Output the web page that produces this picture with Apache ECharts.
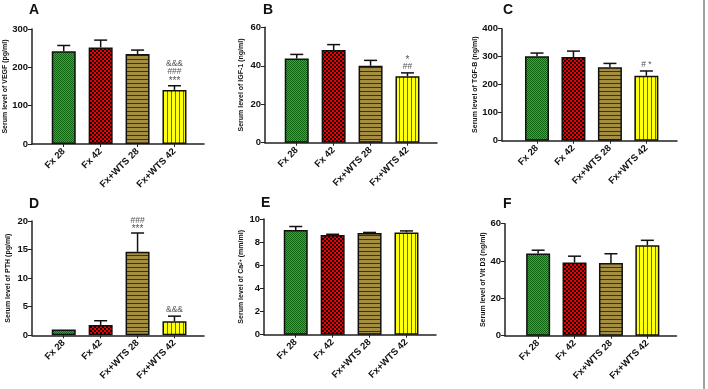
<!DOCTYPE html>
<html><head><meta charset="utf-8">
<script src="https://cdn.jsdelivr.net/npm/echarts@6/dist/echarts.min.js"></script>
<style>html,body{margin:0;padding:0;background:#fff}#c{width:708px;height:389px}</style>
</head><body><div id="c"></div>
<script>
const categories = ['Fx 28', 'Fx 42', 'Fx+WTS 28', 'Fx+WTS 42'];
const panelLetters = ['A', 'B', 'C', 'D', 'E', 'F'];
const yTitles = ['Serum level of VEGF (pg/ml)', 'Serum level of IGF-1 (ng/ml)', 'Serum level of TGF-B (ng/ml)',
  'Serum level of PTH (pg/ml)', 'Serum level of Ca{sup|2+} (mm/ml)', 'Serum level of Vit D3 (ng/ml)'];
const vegfMean = [242, 252, 235, 141];
const vegfErr = [15, 19, 10, 11];
const igfMean = [43.8, 48.2, 40.0, 34.5];
const igfErr = [2.1, 2.8, 2.8, 1.8];
const tgfMean = [302, 299, 262, 232];
const tgfErr = [11, 21, 14, 17];
const pthMean = [1.0, 1.8, 14.6, 2.45];
const pthErr = [0, 0.75, 3.3, 0.9];
const caMean = [9.05, 8.62, 8.78, 8.84];
const caErr = [0.3, 0.06, 0.06, 0.13];
const vitMean = [44.0, 39.2, 39.0, 48.5];
const vitErr = [1.8, 3.4, 4.9, 2.6];
const yMax = [300, 60, 400, 20, 10, 60];
const yInterval = [100, 20, 100, 5, 2, 20];
// significance marks, listed bottom-to-top
const vegfMarks = [[], [], [], ['***', '###', '&&&']];
const igfMarks = [[], [], [], ['##', '*']];
const tgfMarks = [[], [], [], ['# *']];
const pthMarks = [[], [], ['***', '###'], ['&&&']];
const caMarks = [[], [], [], []];
const vitMarks = [[], [], [], []];

const means = [vegfMean, igfMean, tgfMean, pthMean, caMean, vitMean];
const errs = [vegfErr, igfErr, tgfErr, pthErr, caErr, vitErr];
const marks = [vegfMarks, igfMarks, tgfMarks, pthMarks, caMarks, vitMarks];

const layout = [
  {left: 32, top: 29, height: 115, width: 172, xmin: 0.14, xmax: 4.8, letterX: 29, letterY: 3, nameGap: 20, markStep: 8},
  {left: 265, top: 27.3, height: 115.4, width: 172, xmin: 0.14, xmax: 4.8, letterX: 263, letterY: 3, nameGap: 20, markStep: 8.5},
  {left: 502, top: 28.7, height: 112, width: 175, xmin: 0.04, xmax: 4.84, letterX: 503, letterY: 3, nameGap: 21, markStep: 8},
  {left: 32, top: 221, height: 114.3, width: 172, xmin: 0.14, xmax: 4.8, letterX: 29, letterY: 197, nameGap: 20, markStep: 6},
  {left: 264, top: 219, height: 115.7, width: 172, xmin: 0.14, xmax: 4.8, letterX: 261, letterY: 196, nameGap: 19, markStep: 8},
  {left: 505, top: 223.7, height: 112, width: 171.5, xmin: 0.09, xmax: 4.8, letterX: 503, letterY: 197, nameGap: 14, markStep: 8}
];

function pat(w, h, draw) {
  const c = document.createElement('canvas');
  c.width = w; c.height = h;
  draw(c.getContext('2d'));
  return {image: c, repeat: 'repeat'};
}
const fills = [
  pat(2, 2, g => { g.fillStyle = '#2fae2f'; g.fillRect(0, 0, 2, 2); g.fillStyle = '#0d650d'; g.fillRect(0, 0, 1, 1); g.fillRect(1, 1, 1, 1); }),
  pat(4, 4, g => { g.fillStyle = '#f00000'; g.fillRect(0, 0, 4, 4); g.fillStyle = '#1a0000'; g.fillRect(0, 0, 2, 2); g.fillRect(2, 2, 2, 2); }),
  pat(1, 4, g => { g.fillStyle = '#a48e40'; g.fillRect(0, 0, 1, 4); g.fillStyle = '#3d3212'; g.fillRect(0, 3, 1, 1); }),
  pat(4, 1, g => { g.fillStyle = '#ffff10'; g.fillRect(0, 0, 4, 1); g.fillStyle = '#6a6a28'; g.fillRect(3, 0, 1, 1); })
];

const FONT = 'Liberation Sans, Arial, sans-serif';
const grid = [], xAxis = [], yAxis = [], series = [], title = [];
layout.forEach((L, k) => {
  grid.push({left: L.left, top: L.top, width: L.width, height: L.height, outerBoundsMode: 'none', containLabel: false});
  title.push({text: panelLetters[k], left: L.letterX, top: L.letterY, padding: 0,
    textStyle: {fontSize: 14, fontWeight: 'bold', color: '#111', fontFamily: FONT}});
  xAxis.push({
    type: 'value', gridIndex: k, min: L.xmin, max: L.xmax,
    splitLine: {show: false},
    axisLine: {show: true, lineStyle: {color: '#222', width: 1.5}},
    axisTick: {show: true, length: 3, customValues: [1, 2, 3, 4], lineStyle: {color: '#222', width: 1}},
    axisLabel: {customValues: [1, 2, 3, 4], rotate: 45, margin: 6, fontSize: 9.5, fontWeight: 'bold', color: '#111', fontFamily: FONT,
      formatter: v => categories[Math.round(v) - 1] || ''}
  });
  yAxis.push({
    type: 'value', gridIndex: k, min: 0, max: yMax[k], interval: yInterval[k],
    splitLine: {show: false},
    axisLine: {show: true, lineStyle: {color: '#222', width: 1.5}},
    axisTick: {show: true, length: 4, lineStyle: {color: '#222', width: 1}},
    axisLabel: {margin: 4, fontSize: 9.5, fontWeight: 'bold', color: '#111', fontFamily: FONT},
    name: yTitles[k], nameLocation: 'middle', nameGap: L.nameGap,
    nameTextStyle: {fontSize: 7, fontWeight: 'bold', color: '#111', fontFamily: FONT,
      rich: {sup: {fontSize: 5, fontWeight: 'bold', verticalAlign: 'top', color: '#111', fontFamily: FONT}}}
  });
  series.push({
    type: 'bar', xAxisIndex: k, yAxisIndex: k, barWidth: 24,
    data: means[k].map((v, i) => ({value: [i + 1, v], itemStyle: {color: fills[i]}})),
    itemStyle: {borderColor: '#111', borderWidth: 1.5},
    emphasis: {disabled: true}, animation: false
  });
  series.push({
    type: 'custom', xAxisIndex: k, yAxisIndex: k, clip: false, z: 5, animation: false,
    data: means[k].map((v, i) => [i + 1, v, errs[k][i]]),
    renderItem: (params, api) => {
      const x = api.value(0), m = api.value(1), e = api.value(2);
      const p0 = api.coord([x, m]);
      const p1 = api.coord([x, m + e]);
      const children = [];
      if (e > 0) {
        children.push({type: 'line', shape: {x1: p0[0], y1: p0[1], x2: p1[0], y2: p1[1]}, style: {stroke: '#111', lineWidth: 1.5}});
        children.push({type: 'line', shape: {x1: p1[0] - 6.5, y1: p1[1], x2: p1[0] + 6.5, y2: p1[1]}, style: {stroke: '#111', lineWidth: 1.5}});
      }
      const ms = marks[k][params.dataIndex];
      ms.forEach((t, j) => {
        const isStar = t.indexOf('*') >= 0 && t.indexOf('#') < 0;
        children.push({type: 'text', style: {text: t, x: p1[0], y: p1[1] - (isStar ? 4 : 6) - j * L.markStep,
          fill: '#555', fontSize: isStar ? 10 : 8.5, fontFamily: FONT, align: 'center', verticalAlign: 'middle'}});
      });
      return {type: 'group', children};
    }
  });
});

const chart = echarts.init(document.getElementById('c'), null, {renderer: 'canvas'});
chart.setOption({
  animation: false,
  backgroundColor: '#fff',
  title, grid, xAxis, yAxis, series,
  graphic: [{type: 'line', shape: {x1: 704, y1: 0, x2: 704, y2: 389}, style: {stroke: '#444', lineWidth: 1}}]
});
</script></body></html>
